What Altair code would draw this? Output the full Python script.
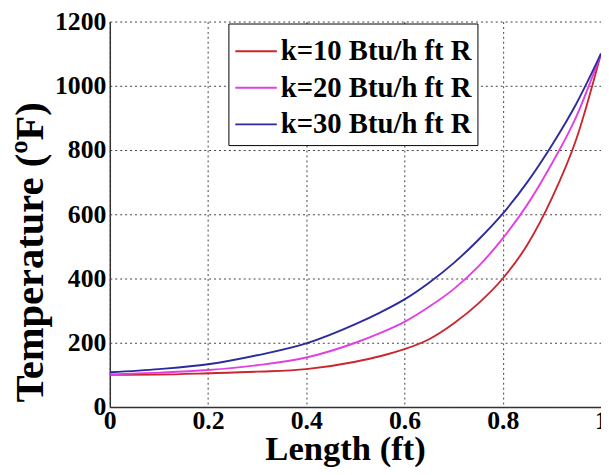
import altair as alt
import pandas as pd

length_ft = [0, 0.1, 0.2, 0.3, 0.4, 0.5, 0.55, 0.6, 0.65, 0.7, 0.75, 0.8, 0.85, 0.9, 0.95, 1.0]
k10 = [100, 101, 105, 110, 118, 141, 158, 180, 211, 260, 322, 400, 505, 650, 835, 1100]
k20 = [102, 107, 115, 130, 154, 200, 230, 265, 312, 367, 437, 525, 630, 758, 905, 1100]
k30 = [108, 118, 133, 161, 198, 258, 294, 335, 387, 448, 520, 602, 700, 815, 945, 1100]
series = ["k=10 Btu/h ft R", "k=20 Btu/h ft R", "k=30 Btu/h ft R"]
colors = ["#c8282d", "#e040e0", "#2b2b9e"]

rows = []
for name, vals in zip(series, [k10, k20, k30]):
    for x, y in zip(length_ft, vals):
        rows.append({"x": x, "y": y, "k": name})
df = pd.DataFrame(rows)

FONT = "Liberation Serif"

chart = alt.Chart(df).mark_line(strokeWidth=1.9, interpolate="monotone").encode(
    x=alt.X("x:Q", scale=alt.Scale(domain=[0, 1], nice=False),
            axis=alt.Axis(values=[0, 0.2, 0.4, 0.6, 0.8, 1], format="~g",
                          title="Length (ft)", titleX=238, titleY=53,
                          titleBaseline="alphabetic", titleFontSize=35,
                          labelPadding=1)),
    y=alt.Y("y:Q", scale=alt.Scale(domain=[0, 1200], nice=False),
            axis=alt.Axis(values=[0, 200, 400, 600, 800, 1000, 1200], format="d",
                          title="Temperature (ºF)", titleAngle=-90,
                          titleX=-80, titleY=233, titleAlign="center",
                          titleBaseline="middle", titleFontSize=41,
                          labelPadding=4)),
    color=alt.Color("k:N", scale=alt.Scale(domain=series, range=colors),
                    legend=alt.Legend(title=None, orient="none", legendX=120, legendY=2,
                                      symbolType="stroke", symbolSize=1764,
                                      symbolStrokeWidth=1.9, labelFontSize=29,
                                      labelFont=FONT, labelFontWeight="bold",
                                      labelColor="black", labelOffset=3,
                                      strokeColor="black", fillColor="white",
                                      padding=6, rowPadding=-1, labelLimit=400)),
).properties(
    width=497, height=390,
    autosize=alt.AutoSizeParams(type="none"),
    padding={"left": 103, "top": 11, "right": 0, "bottom": 58},
).configure(
    font=FONT,
).configure_axis(
    labelFont=FONT, labelFontWeight="bold", labelFontSize=26, labelColor="black",
    titleFont=FONT, titleFontWeight="bold", titleColor="black",
    labelFlush=False, labelOverlap=False,
    ticks=False, domainColor="#333333", domainWidth=1.5,
    grid=True, gridColor="black", gridDash=[2, 3], gridWidth=1, gridOpacity=0.75,
).configure_legend(
    labelFont=FONT, labelFontWeight="bold", labelFontSize=29,
).configure_view(stroke=None)

chart.save("out.html", embed_options={"renderer": "svg", "actions": False})
